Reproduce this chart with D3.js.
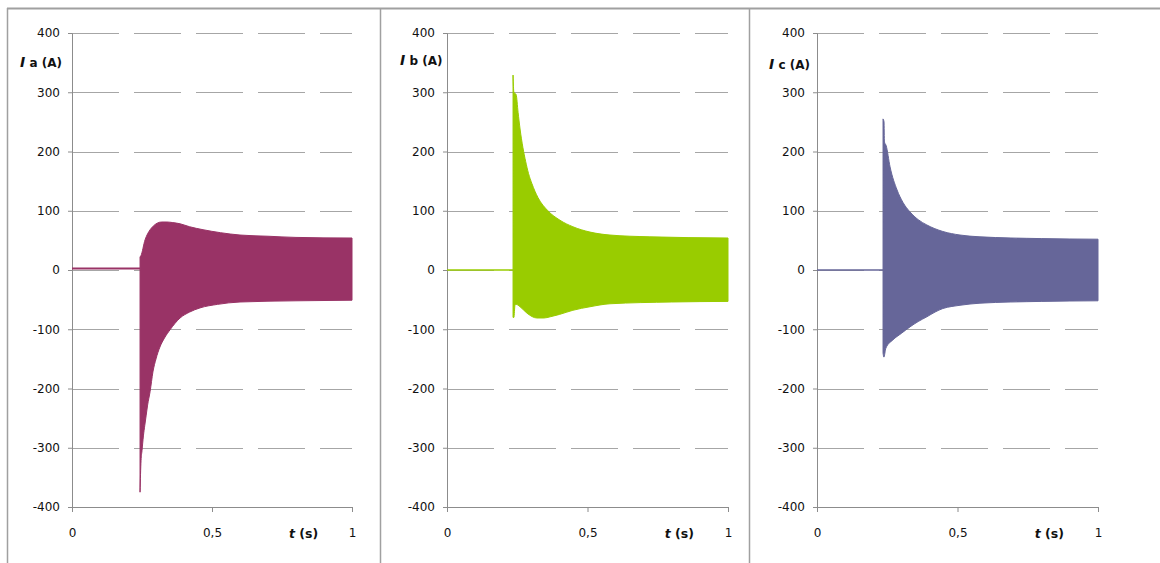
<!DOCTYPE html>
<meta charset="utf-8">
<script src="https://d3js.org/d3.v7.min.js"></script>
<style>
  body { margin: 0; background: #fff; }
  text { font-family: "DejaVu Sans", "Liberation Sans", sans-serif; fill: #111; }
</style>
<svg id="chart" width="1160" height="563"></svg>
<script>

// axis ticks
var yTicks = [400, 300, 200, 100, 0, -100, -200, -300, -400];
var xTicks = [0, 0.5, 1];
var xTickLabels = ["0", "0,5", "1"];

// phase names and colours
var phases = ["a", "b", "c"];
var colors = ["#993366", "#99cc00", "#666699"];

// level before the fault (A)
var preLevel = [2.5, 0, 0];

// envelope of each current after the fault (t in s, I in A)
var tUpA = [0.243, 0.246, 0.261, 0.270, 0.279, 0.290, 0.304, 0.320, 0.339, 0.360, 0.386, 0.420, 0.468, 0.530, 0.600, 0.700, 0.800, 1];
var upA  = [22, 24, 51, 61, 68, 74, 79, 81, 81, 80, 78, 73, 68, 63, 59, 57, 55, 54];
var tLoA = [0.243, 0.2465, 0.250, 0.255, 0.260, 0.265, 0.270, 0.279, 0.289, 0.300, 0.314, 0.330, 0.350, 0.386, 0.420, 0.457, 0.520, 0.600, 0.800, 1];
var loA  = [-375, -322, -305, -280, -262, -245, -228, -205, -172, -150, -130, -115, -101, -81, -71, -64, -58, -54, -52, -51];

var tUpB = [0.235, 0.238, 0.246, 0.253, 0.260, 0.270, 0.280, 0.290, 0.302, 0.324, 0.359, 0.402, 0.448, 0.509, 0.580, 0.722, 1];
var upB  = [329, 300, 296, 266, 238, 207, 183, 163, 146, 122, 100, 84, 73, 64, 59, 56, 54];
var tLoB = [0.235, 0.238, 0.242, 0.246, 0.260, 0.285, 0.320, 0.345, 0.367, 0.400, 0.448, 0.509, 0.580, 0.800, 1];
var loB  = [-80, -80, -59, -58, -62, -73, -81, -81, -79, -75, -68, -62, -57, -54, -53];

var tUpC = [0.235, 0.2385, 0.240, 0.246, 0.260, 0.285, 0.306, 0.331, 0.360, 0.391, 0.448, 0.509, 0.580, 0.800, 1];
var upC  = [255, 250, 216, 210, 174, 135, 114, 98, 85, 76, 65, 59, 56, 53, 52];
var tLoC = [0.235, 0.238, 0.245, 0.270, 0.300, 0.331, 0.360, 0.391, 0.420, 0.448, 0.480, 0.509, 0.580, 0.800, 1];
var loC  = [-140, -147, -132, -118, -107, -96, -87, -79, -71, -65, -61.5, -59.5, -56, -53, -52];

var envelopes = [
  {tUp: tUpA, up: upA, tLo: tLoA, lo: loA},
  {tUp: tUpB, up: upB, tLo: tLoB, lo: loB},
  {tUp: tUpC, up: upC, tLo: tLoC, lo: loC}
];

// panel frames
var panels = [
  {bx: 7,   x0: 72,  w: 280, labX: 20, labY: 62},
  {bx: 380, x0: 447, w: 281, labX: 400, labY: 60},
  {bx: 749, x0: 817, w: 281, labX: 769, labY: 64}
];
var plotTop = 33, plotBottom = 507;

var svg = d3.select("#chart");

// borders
svg.append("line")
  .attr("x1", 7).attr("x2", 1160).attr("y1", 8.5).attr("y2", 8.5)
  .style("stroke", "#a0a0a0").style("stroke-width", 2);
panels.forEach(function(p) {
  svg.append("line")
    .attr("x1", p.bx + 0.5).attr("x2", p.bx + 0.5).attr("y1", 8).attr("y2", 563)
    .style("stroke", "#a0a0a0").style("stroke-width", 1.5);
});

panels.forEach(function(p, i) {
  var g = svg.append("g");

  var x = d3.scaleLinear().domain([0, 1]).range([p.x0, p.x0 + p.w]);
  var y = d3.scaleLinear().domain([-400, 400]).range([plotBottom, plotTop]);

  // dashed grid
  g.selectAll(".grid")
    .data(yTicks.filter(function(d) { return d > -400; }))
    .enter().append("line")
      .attr("x1", p.x0).attr("x2", p.x0 + p.w)
      .attr("y1", function(d) { return Math.round(y(d)) + 0.5; })
      .attr("y2", function(d) { return Math.round(y(d)) + 0.5; })
      .style("stroke", "#a6a6a6")
      .style("stroke-dasharray", "47,15");

  // y axis
  var yAxis = g.append("g")
    .attr("transform", "translate(" + p.x0 + ",0)")
    .call(d3.axisLeft(y).tickValues(yTicks).tickSize(4).tickPadding(8)
      .tickFormat(function(d) { return String(d); }));
  yAxis.select(".domain").style("stroke", "#8c8c8c");
  yAxis.selectAll(".tick line").style("stroke", "#8c8c8c");
  yAxis.selectAll("text").style("font-size", "12px").style("fill", "#111");

  // x axis
  var xAxis = g.append("g")
    .attr("transform", "translate(0," + plotBottom + ")")
    .call(d3.axisBottom(x).tickValues(xTicks).tickSize(5).tickPadding(16)
      .tickFormat(function(d, k) { return xTickLabels[k]; }));
  xAxis.select(".domain").style("stroke", "#8c8c8c");
  xAxis.selectAll(".tick line").style("stroke", "#8c8c8c");
  xAxis.selectAll("text").style("font-size", "12px").style("fill", "#111");

  var e = envelopes[i];

  // pre-fault trace
  g.append("line")
    .attr("x1", x(0)).attr("x2", x(e.tUp[0]))
    .attr("y1", y(preLevel[i])).attr("y2", y(preLevel[i]))
    .style("stroke", colors[i])
    .style("stroke-width", i == 0 ? 2 : 1.5);

  // signal band: upper envelope forward, lower envelope back
  var curve = d3.line()
    .x(function(d) { return x(d[0]); })
    .y(function(d) { return y(d[1]); })
    .curve(d3.curveMonotoneX);
  var upPts = e.tUp.map(function(t, k) { return [t, e.up[k]]; });
  var loPts = e.tLo.map(function(t, k) { return [t, e.lo[k]]; }).reverse();
  var d = curve(upPts) + curve(loPts).replace("M", "L") + "Z";
  g.append("path")
    .attr("d", d)
    .style("fill", colors[i])
    .style("stroke", colors[i])
    .style("stroke-width", 1);

  // y label
  var yl = g.append("text")
    .attr("x", p.labX)
    .attr("y", p.labY + 5)
    .style("font-weight", "bold");
  yl.append("tspan").text("I").style("font-style", "italic").style("font-size", "14px");
  yl.append("tspan").text(" " + phases[i] + " (A)").style("font-size", "12px");

  // x label
  var xl = g.append("text")
    .attr("x", x(0.775))
    .attr("y", 538)
    .style("font-weight", "bold")
    .style("font-size", "12.5px");
  xl.append("tspan").text("t").style("font-style", "italic");
  xl.append("tspan").text("  (s)");
});

</script>
